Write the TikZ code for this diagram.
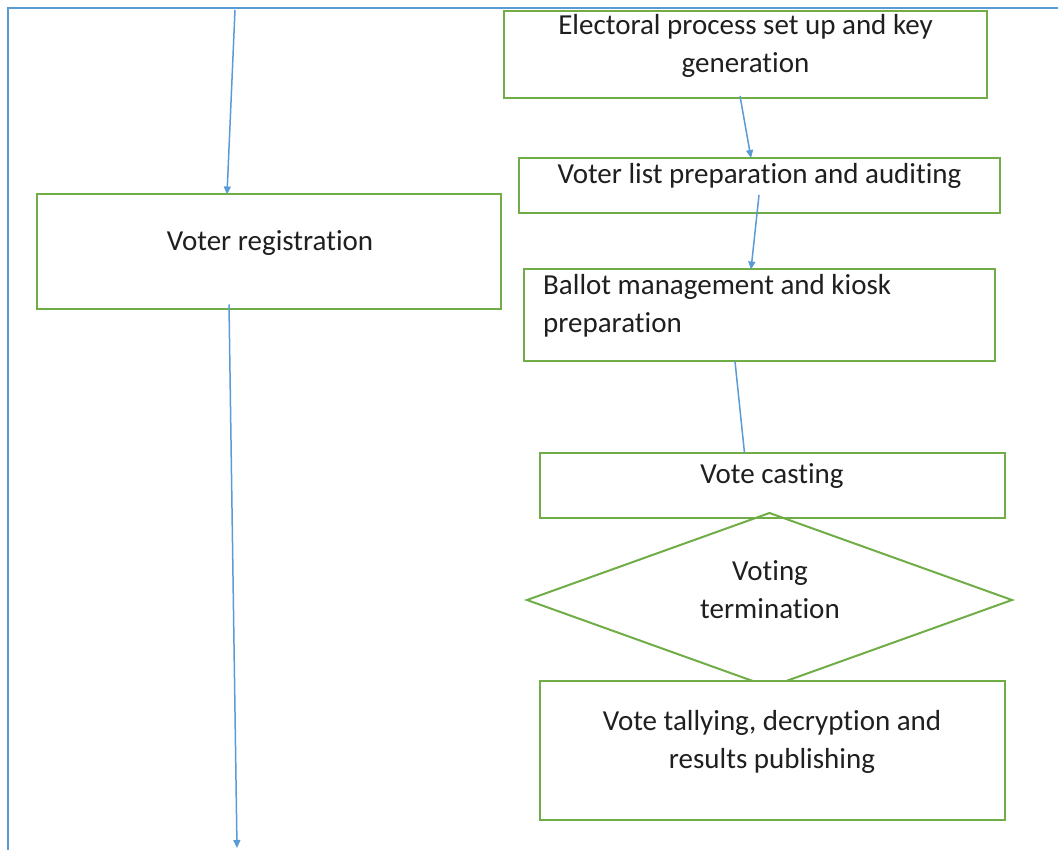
\documentclass[tikz,border=0pt]{standalone}
\usepackage{fontspec}
\setmainfont{Carlito}[Ligatures={NoCommon}]
\usetikzlibrary{arrows.meta,shapes.geometric}
\definecolor{ogreen}{RGB}{112,173,71}
\definecolor{oblue}{RGB}{91,155,213}
\begin{document}
\begin{tikzpicture}[x=1pt,y=-1pt,
  box/.style={draw=ogreen,line width=2pt,fill=white,rectangle,inner sep=0pt,outer sep=0pt},
  dia/.style={draw=ogreen,line width=2pt,diamond,inner sep=0pt,outer sep=0pt},
  lbl/.style={font=\fontsize{29}{38}\selectfont,align=center,inner sep=0pt,text=black!88},
  conn/.style={draw=oblue,line width=1.5pt},
  arr/.style={conn,-{Triangle[length=8pt,width=7pt]}},
  frameline/.style={draw=oblue,line width=2.5pt}]
\useasboundingbox (0,0) rectangle (1058,850);
\draw[frameline] (1058,8) -- (8,8) -- (8,850);
% boxes
\node[box,minimum width=483,minimum height=87] (e) at (745.5,54.5) {};
\node[box,minimum width=481,minimum height=55] (l) at (759.5,185.5) {};
\node[box,minimum width=471,minimum height=92] (b) at (759.5,315.5) {};
\node[box,minimum width=465,minimum height=65] (c) at (772.5,485.5) {};
\node[dia,minimum width=485,minimum height=174] (d) at (769.5,600) {};
\node[box,minimum width=465,minimum height=139] (t) at (772.5,750.5) {};
\node[box,minimum width=464,minimum height=115] (v) at (269,252) {};
% texts
\node[lbl] at (745.5,45.5) {Electoral process set up and key\\generation};
\node[lbl] at (759.5,176) {Voter list preparation and auditing};
\node[lbl,anchor=west,align=left] at (543,306) {Ballot management and kiosk\\preparation};
\node[lbl] at (772,476) {Vote casting};
\node[lbl] at (770,590) {Voting\\termination};
\node[lbl] at (772,741.5) {Vote tallying, decryption and\\results publishing};
\node[lbl] at (270,243) {Voter registration};
% connectors
\coordinate (s1) at (235,10);
\coordinate (s2) at (237,848);
\draw[arr] (s1) -- ([xshift=-42pt]v.north);
\draw[arr] ([xshift=-40pt,yshift=5pt]v.south) -- (s2);
\draw[arr] ([xshift=-5.5pt,yshift=2pt]e.south) -- ([xshift=-8.5pt]l.north);
\draw[arr] ([xshift=-0.5pt,yshift=18pt]l.south) -- ([xshift=-8.5pt]b.north);
\draw[conn] ([xshift=-24.5pt]b.south) -- ([xshift=-28pt]c.north);
\end{tikzpicture}
\end{document}
